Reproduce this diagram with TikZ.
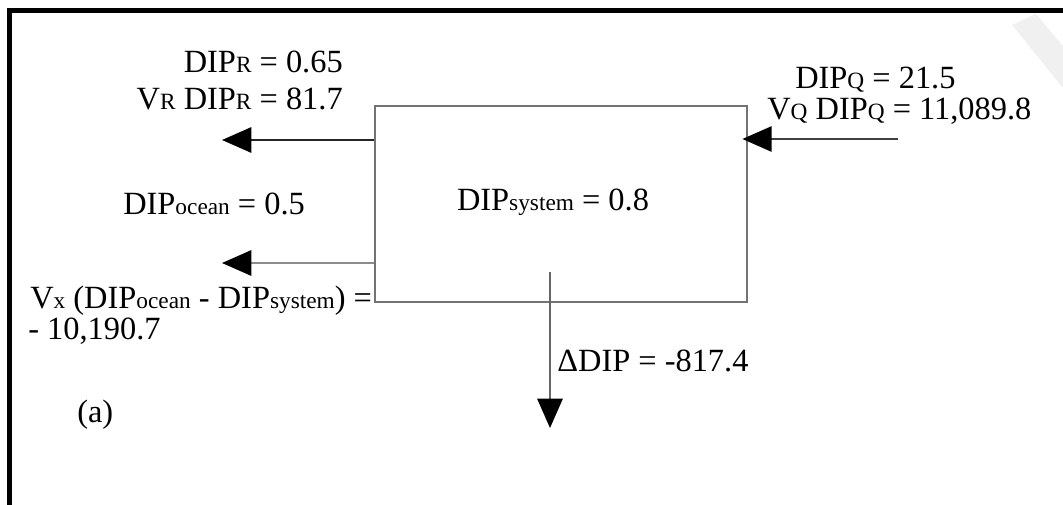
\documentclass[tikz,border=0pt]{standalone}
\usepackage{fontspec}
\setmainfont{Liberation Serif}
\usetikzlibrary{arrows.meta}
\newcommand\smc[1]{{\fontsize{17.5}{17.5}\selectfont #1}}
\begin{document}
\begin{tikzpicture}[x=0.75pt,y=-0.75pt,
  txt/.style={inner sep=0pt,font=\fontsize{24.3}{28}\selectfont},
  sysbox/.style={draw=black!55,line width=1.1pt,minimum width=372*0.75pt,minimum height=196*0.75pt,inner sep=0pt},
  flow/.style={line width=1.5pt,-{Triangle[length=22pt,width=19pt,black]}}]
\useasboundingbox (0,0) rectangle (1063,504);
% watermark
\fill[black!6] (1012,25) -- (1036,14) -- (1063,46) -- (1063,88) -- cycle;
% frame
\draw[line width=3.75pt] (9.5,520) -- (9.5,10.5) -- (1080,10.5);
% system box
\node[sysbox] (sys) at (561,204) {};
\node[txt,anchor=base] (systxt) at (553,210) {DIP\smc{system} = 0.8};
% coordinates
\coordinate (rend) at (222,140);
\coordinate (oend) at (222,263);
\coordinate (qstart) at (898,139);
\coordinate (dstart) at (550,272);
\coordinate (dend) at (550,428);
% arrows
\draw[flow,black!85] (sys.west |- rend) -- (rend);
\draw[flow,black!45] (sys.west |- oend) -- (oend);
\draw[flow,black!75,shorten >=-4pt] (qstart) -- (sys.east |- qstart);
\draw[flow,black!60] (dstart) -- (dend);
% labels
\node[txt,anchor=base east] (dipr) at (343,72) {DIP\smc{R} = 0.65};
\node[txt,anchor=base east] (vr) at (343,109) {V\smc{R} DIP\smc{R} = 81.7};
\node[txt,anchor=base west] (dipo) at (123,214) {DIP\smc{ocean} = 0.5};
\node[txt,anchor=base west] (vx) at (30,308) {V\smc{x} (DIP\smc{ocean} - DIP\smc{system}) =};
\node[txt,anchor=base west] (vxval) at (28,339) {- 10,190.7};
\node[txt,anchor=base west] (lab) at (77,422) {(a)};
\node[txt,anchor=base west] (ddip) at (557,371) {ΔDIP = -817.4};
\node[txt,anchor=base west] (dipq) at (795,88) {DIP\smc{Q} = 21.5};
\node[txt,anchor=base west] (vq) at (767,119) {V\smc{Q} DIP\smc{Q} = 11,089.8};
\end{tikzpicture}
\end{document}
